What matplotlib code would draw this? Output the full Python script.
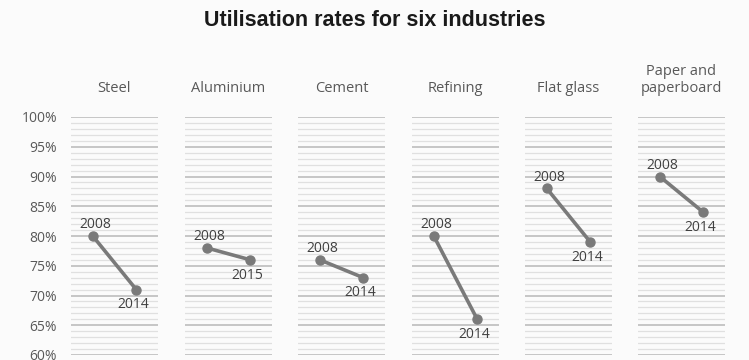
import numpy as np
import matplotlib.pyplot as plt

# data
industries = ['Steel', 'Aluminium', 'Cement', 'Refining', 'Flat glass', 'Paper and\npaperboard']
first_year = ['2008', '2008', '2008', '2008', '2008', '2008']
last_year = ['2014', '2015', '2014', '2014', '2014', '2014']
first_rate = [80, 78, 76, 80, 88, 90]
last_rate = [71, 76, 73, 66, 79, 84]

plt.rcParams['font.family'] = ['Open Sans', 'DejaVu Sans']

fig = plt.figure(figsize=(7.49, 3.6), dpi=100)
fig.patch.set_facecolor('#fbfbfb')

lefts = [71, 185, 298, 412, 525, 638]
W, H = 749, 360
top_px, bot_px = 117, 355

for i, name in enumerate(industries):
    ax = fig.add_axes([lefts[i] / W, 1 - bot_px / H, 87 / W, (bot_px - top_px) / H])
    ax.set_facecolor('none')
    ax.set_xlim(-0.5, 1.5)
    ax.set_ylim(60, 100)
    ax.set_yticks(np.arange(60, 101, 5))
    ax.set_yticks(np.arange(60, 101, 1), minor=True)
    ax.grid(True, which='major', axis='y', color='#c6c6c6', lw=1.4)
    ax.grid(True, which='minor', axis='y', color='#e0e0e0', lw=0.9)
    ax.set_axisbelow(True)
    for s in ax.spines.values():
        s.set_visible(False)
    ax.set_xticks([])
    ax.tick_params(axis='y', which='both', length=0, labelsize=10, labelcolor='#595959', pad=10)
    if i == 0:
        ax.set_yticklabels(['%d%%' % v for v in range(60, 101, 5)])
    else:
        ax.set_yticklabels([])

    ax.plot([0, 1], [first_rate[i], last_rate[i]], color='#7a7a7a', lw=2.6,
            marker='o', ms=6.5, mfc='#7a7a7a', mec='#7a7a7a', clip_on=False, zorder=5)
    ax.annotate(first_year[i], (0, first_rate[i]), xytext=(2, 8), textcoords='offset points',
                ha='center', va='center', fontsize=10, color='#404040')
    ax.annotate(last_year[i], (1, last_rate[i]), xytext=(-2, -11), textcoords='offset points',
                ha='center', va='center', fontsize=10, color='#404040')
    ax.set_title(name, fontsize=10.5, color='#595959', pad=18, linespacing=1.15)

fig.text(0.5, 1 - 20 / H, 'Utilisation rates for six industries', ha='center', va='center',
         fontsize=15.5, fontweight='bold', color='#1a1a1a', family=['Liberation Sans', 'DejaVu Sans'])

fig.savefig('out.png', dpi=100, facecolor=fig.get_facecolor())
